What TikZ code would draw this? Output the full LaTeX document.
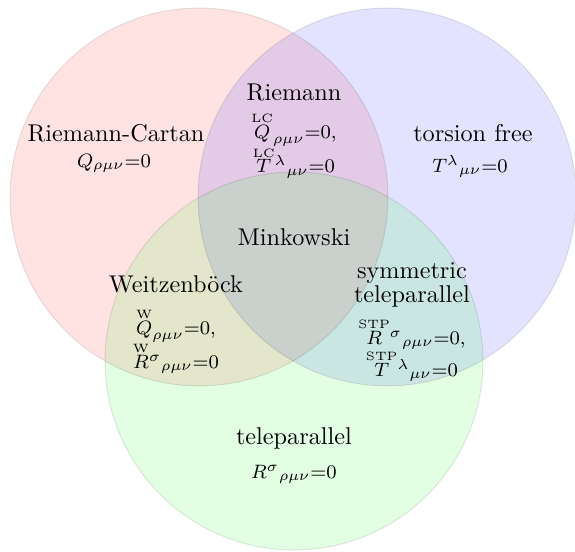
\documentclass[tikz,border=0pt]{standalone}
\usepackage{amsmath}
\usepackage{amssymb}
\usepackage{tikz}
\usetikzlibrary{positioning}
\usepackage{xcolor}
\definecolor{vennred}{HTML}{FF0000}
\definecolor{vennblue}{HTML}{0000FF}
\definecolor{venngreen}{HTML}{00FF00}
\newcommand{\lab}[2]{\overset{\raisebox{-1.6pt}{\tiny #1}}{#2}}

\begin{document}
\begin{tikzpicture}[x=0.01449cm, y=-0.01449cm,
    venn/.style={fill=#1, fill opacity=0.11},
    rim/.style={draw=black, draw opacity=0.1, thin},
    classname/.style={font=\normalsize},
    cond/.style={font=\footnotesize, anchor=base, inner sep=0.5pt},
    condpair/.style={font=\footnotesize, anchor=north, align=center, inner sep=0.5pt}]
        \useasboundingbox (0,0) rectangle (575,551);
        % the three classes
        \path[venn=vennred] (199,197) circle (2.739cm);
        \path[venn=vennblue] (387,197) circle (2.739cm);
        \path[venn=venngreen] (294,361) circle (2.739cm);
        \draw[rim] (199,197) circle (2.739cm);
        \draw[rim] (387,197) circle (2.739cm);
        \draw[rim] (294,361) circle (2.739cm);
        % labels
        \node[classname] (rc) at (116,133) {Riemann-Cartan};
        \node[cond] (rcq) at (114,167) {$Q_{\rho\mu\nu}{=}0$};
        \node[classname] (riem) at (294,92) {Riemann};
        \node[condpair] (riemc) at (294,110)
            {$\lab{LC}{Q}_{\rho\mu\nu}{=}0,$\\[-1pt]$\lab{LC}{T}{}^{\lambda}{}_{\mu\nu}{=}0$};
        \node[classname] (tf) at (473,133) {torsion free};
        \node[cond] (tft) at (470,172) {$T^{\lambda}{}_{\mu\nu}{=}0$};
        \node[classname] (mink) at (294,237) {Minkowski};
        \node[classname] (wb) at (176,284) {Weitzenb\"ock};
        \node[condpair] (wbc) at (176,306)
            {$\lab{W}{Q}_{\rho\mu\nu}{=}0,$\\[-1pt]$\lab{W}{R}{}^{\sigma}{}_{\rho\mu\nu}{=}0$};
        \node[classname, align=center] (stp) at (412,285) {symmetric\\[-2pt]teleparallel};
        \node[condpair] (stpc) at (412,316)
            {$\lab{STP}{R}{}^{\sigma}{}_{\rho\mu\nu}{=}0,$\\[-1pt]$\lab{STP}{T}{}^{\lambda}{}_{\mu\nu}{=}0$};
        \node[classname] (tp) at (294,438) {teleparallel};
        \node[cond] (tpr) at (294,478) {$R^{\sigma}{}_{\rho\mu\nu}{=}0$};
\end{tikzpicture}
\end{document}
